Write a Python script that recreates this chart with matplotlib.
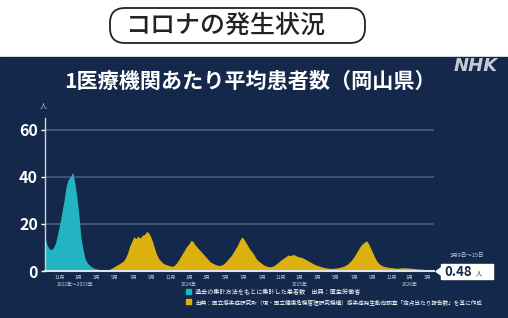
import matplotlib
matplotlib.use('Agg')
import matplotlib.pyplot as plt
from matplotlib.patches import FancyBboxPatch, Rectangle, Polygon
import pandas as pd

plt.rcParams['font.family'] = ['Noto Sans CJK JP', 'DejaVu Sans']

# weekly values, average patients per sentinel clinic (Okayama)
# teal: old counting method, Sep 2022 - early May 2023
teal = [14, 11, 9.5, 9, 10, 12, 16, 20, 25, 30, 36, 39, 40, 42, 38, 32, 24, 14,
        9, 5, 3.5, 2.5, 1.8, 1.3, 1.0, 0.8, 0.6, 0.5, 0.4, 0.4]
# yellow: sentinel surveillance, May 2023 onwards
yellow = [0.5, 1.0, 1.4, 2.0, 2.5, 3.0, 3.6, 4.2, 5.5, 7.5, 10.5, 12.5, 14.5, 13.8,
          14.8, 14.0, 15.2, 15.5, 16.8, 16.2, 14.5, 12, 9, 6.5, 5, 4, 3.2, 2.8,
          2.5, 2.2, 2.0, 2.3, 3.2, 4.5, 6, 7.5, 9, 10.5, 11.5, 13, 12.5, 11, 10,
          9, 8, 7, 6, 5, 4, 3.4, 3, 2.6, 2.4, 2.4, 2.8, 3.5, 4.5, 5.5, 6.5, 8,
          9.5, 11, 13, 14.5, 13.5, 12, 10.5, 9, 8, 6.5, 5, 4.2, 3.5, 2.8, 2.3,
          2.0, 1.8, 1.9, 2.2, 2.8, 3.5, 4.3, 5, 5.6, 6.2, 6.8, 6.5, 7.0, 6.8,
          6.3, 6.0, 5.8, 5.5, 5.0, 4.5, 4.0, 3.5, 3.0, 2.6, 2.3, 2.0, 1.7, 1.5,
          1.3, 1.2, 1.1, 1.1, 1.2, 1.3, 1.5, 1.7, 2.0, 2.4, 3.0, 3.8, 4.8, 6.0,
          7.5, 9.0, 10.5, 11.5, 12.3, 12.8, 11.5, 9.5, 7.5, 5.5, 4.0, 3.0, 2.4,
          2.0, 1.8, 1.6, 1.5, 1.4, 1.3, 1.2, 1.2, 1.3, 1.3, 1.4, 1.3, 1.2, 1.2,
          1.1, 1.0, 0.9, 0.8, 0.8, 0.7, 0.6, 0.6, 0.5, 0.48]

dates = pd.date_range('2022-09-12', periods=len(teal) + len(yellow), freq='7D')
teal_dates = dates[:len(teal)]
yellow_dates = dates[len(teal) - 1:]

tick_dates = pd.date_range('2022-11-01', '2026-03-01', freq='2MS')
tick_labels = [f'{d.month}月' for d in tick_dates]
year_pos = pd.to_datetime(['2022-12-20', '2024-01-01', '2025-01-01', '2026-01-01'])
year_labels = ['2022年～2023年', '2024年', '2025年', '2026年']

latest = '0.48'
latest_period = '3月9日～15日'

navy = '#13284b'
teal_c = '#22b4c0'
yellow_c = '#dcb00f'
grid_c = '#3b5478'
light = '#c9d1de'

fig = plt.figure(figsize=(5.08, 3.18), dpi=100)
fig.patch.set_facecolor('white')

# pixel overlay for decoration
bg = fig.add_axes([0, 0, 1, 1], zorder=0)
bg.set_xlim(0, 508)
bg.set_ylim(318, 0)
bg.axis('off')
bg.add_patch(Rectangle((0, 57), 508, 261, color=navy))
bg.add_patch(FancyBboxPatch((110, 8), 255, 35,
                            boxstyle='round,pad=0,rounding_size=15',
                            fc='white', ec='#222222', lw=1.3))
bg.text(225, 25.5, 'コロナの発生状況', fontsize=18, fontweight='medium',
        ha='center', va='center', color='#222222')
bg.text(250, 81, '1医療機関あたり平均患者数（岡山県）', fontsize=15.2,
        fontweight='bold', ha='center', va='center', color='white')
bg.text(476, 66, 'NHK', fontsize=13, fontweight='bold', style='italic',
        family='DejaVu Sans', ha='center', va='center', color='#c5cbd6')
bg.text(43, 107, '人', fontsize=5, ha='center', va='center', color=light)

# legend
bg.add_patch(Rectangle((186, 289), 5, 5, color=teal_c))
bg.add_patch(Rectangle((186, 299), 5, 5, color=yellow_c))
bg.text(195, 292, '過去の集計方法をもとに集計した患者数　出典：厚生労働省',
        fontsize=4.4, ha='left', va='center', color='white')
bg.text(195, 302, '出典：国立感染症研究所（現・国立健康危機管理研究機構）'
        '感染症発生動向調査「定点当たり報告数」を基に作成',
        fontsize=4.05, ha='left', va='center', color='white')

# latest value label
bg.text(467, 255, latest_period, fontsize=4, ha='center', va='center', color=light)
bg.add_patch(Rectangle((441, 264), 52, 15, color='white'))
bg.add_patch(Polygon([(436, 271.5), (441.5, 267.5), (441.5, 275.5)], color='white'))
bg.text(444, 272, latest, fontsize=9.5, fontweight='bold', ha='left',
        va='center', color=navy)
bg.text(476, 274, '人', fontsize=4.5, ha='left', va='center', color=navy)

# chart
ax = fig.add_axes([45 / 508, 47 / 318, 389 / 508, 153 / 318], zorder=1)
ax.patch.set_alpha(0)
ax.fill_between(teal_dates, teal, color=teal_c, lw=0)
ax.fill_between(yellow_dates, [teal[-1]] + yellow, color=yellow_c, lw=0)
ax.set_xlim(dates[0], pd.Timestamp('2026-03-22'))
ax.set_ylim(0, 65)

ax.set_yticks([0, 20, 40, 60])
ax.yaxis.grid(True, color=grid_c, lw=1.5)
ax.set_axisbelow(True)
ax.tick_params(axis='y', colors='white', labelsize=11.5, length=3, width=1, pad=2)
for lab in ax.get_yticklabels():
    lab.set_fontweight('bold')
ax.set_xticks(tick_dates)
ax.set_xticklabels(tick_labels)
ax.tick_params(axis='x', colors=light, labelsize=3.5, length=0, pad=3)
for spine in ['top', 'right']:
    ax.spines[spine].set_visible(False)
ax.spines['left'].set_color(light)
ax.spines['left'].set_linewidth(1)
ax.spines['bottom'].set_color('#dde3ec')
ax.spines['bottom'].set_linewidth(1.5)

for d, lab in zip(year_pos, year_labels):
    ax.text(d, -0.09, lab, transform=ax.get_xaxis_transform(), fontsize=3.5,
            ha='center', va='center', color=light)

fig.savefig('out.png', dpi=100)
